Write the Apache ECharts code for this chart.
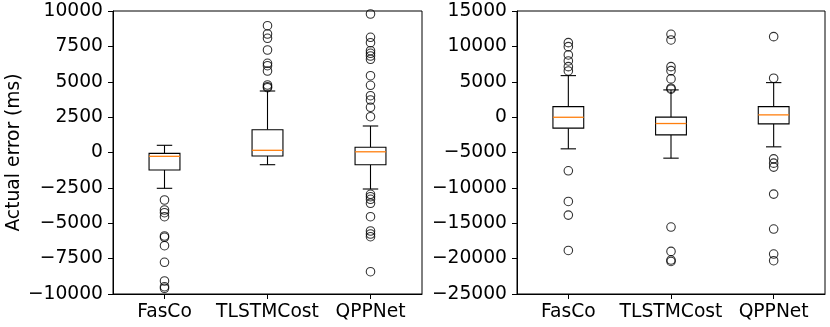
<!DOCTYPE html>
<html>
<head>
<meta charset="utf-8">
<script src="https://cdn.jsdelivr.net/npm/echarts@6/dist/echarts.min.js"></script>
<style>html,body{margin:0;padding:0;background:#fff}#c{width:830px;height:327px}</style>
</head>
<body>
<div id="c"></div>
<script>
const categories = ['FasCo', 'TLSTMCost', 'QPPNet'];
const yTitle = 'Actual error (ms)';

// box stats: [lowerWhisker, Q1, median, Q3, upperWhisker]
const leftFasCo = [-2530, -1237, -270, -60, 509];
const leftTLSTM = [-862, -247, 155, 1611, 4346];
const leftQPPNet = [-2580, -862, 50, 367, 1873];
const rightFasCo = [-4482, -1560, -20, 1489, 5866];
const rightTLSTM = [-5800, -2506, -904, 0, 3847];
const rightQPPNet = [-4200, -953, 318, 1489, 4878];

// outliers
const leftFasCoOut = [-3357, -4064, -4254, -4537, -5901, -5993, -6587, -7760, -9081, -9484, -9597];
const leftTLSTMOut = [8961, 8375, 8071, 7244, 6304, 6134, 5760, 4770, 4650, 4580];
const leftQPPNetOut = [9788, 8141, 7760, 7194, 7011, 6820, 6587, 5428, 4749, 4014, 3710, 3194, 2530,
  -2954, -3124, -3307, -3590, -4537, -5548, -5760, -5951, -8424];
const rightFasCoOut = [10525, 9960, 8789, 7941, 7136, 6530, -7587, -11923, -13846, -18841];
const rightTLSTMOut = [11705, 10906, 7136, 6572, 5400, 4086, 3950, -15537, -18982, -20200, -20400];
const rightQPPNetOut = [11373, 5500, -5894, -6502, -7066, -10878, -15820, -19350, -20296];

const FONT = 'DejaVu Sans';
const FS = 18.7;
const fmt = v => String(v).replace('-', '\u2212');

function boxData(list) { return list.map((s, i) => [i].concat(s)); }
function outData(lists) {
  const out = [];
  lists.forEach((l, i) => l.forEach(v => out.push([i, v])));
  return out;
}

function renderBox(params, api) {
  const x = api.value(0);
  const pLo = api.coord([x, api.value(1)]);
  const pQ1 = api.coord([x, api.value(2)]);
  const pMed = api.coord([x, api.value(3)]);
  const pQ3 = api.coord([x, api.value(4)]);
  const pHi = api.coord([x, api.value(5)]);
  const bw = api.size([1, 0])[0] * 0.3;
  const cx = pMed[0];
  const ls = { stroke: '#000', lineWidth: 1.1, fill: null };
  return {
    type: 'group',
    children: [
      { type: 'line', shape: { x1: cx, y1: pQ1[1], x2: cx, y2: pLo[1] }, style: ls },
      { type: 'line', shape: { x1: cx, y1: pQ3[1], x2: cx, y2: pHi[1] }, style: ls },
      { type: 'line', shape: { x1: cx - bw / 4, y1: pLo[1], x2: cx + bw / 4, y2: pLo[1] }, style: ls },
      { type: 'line', shape: { x1: cx - bw / 4, y1: pHi[1], x2: cx + bw / 4, y2: pHi[1] }, style: ls },
      { type: 'rect', shape: { x: cx - bw / 2, y: pQ3[1], width: bw, height: pQ1[1] - pQ3[1] }, style: { stroke: '#000', lineWidth: 1.1, fill: '#fff' } },
      { type: 'line', shape: { x1: cx - bw / 2, y1: pMed[1], x2: cx + bw / 2, y2: pMed[1] }, style: { stroke: '#ff7f0e', lineWidth: 1.3 } }
    ]
  };
}

const axisText = { color: '#000', fontFamily: FONT, fontSize: FS };
function xAxis(idx) {
  return {
    type: 'category', gridIndex: idx, data: categories, boundaryGap: true,
    axisLine: { show: true, onZero: false, lineStyle: { color: '#000', width: 1 } },
    axisTick: { show: true, alignWithLabel: true, length: 5, lineStyle: { color: '#000' } },
    axisLabel: Object.assign({ margin: 9, interval: 0, hideOverlap: false }, axisText),
    splitLine: { show: false }
  };
}
function yAxis(idx, min, max, interval, name) {
  return {
    type: 'value', gridIndex: idx, min, max, interval,
    name: name || '', nameLocation: 'middle', nameGap: 89,
    nameTextStyle: { color: '#000', fontFamily: FONT, fontSize: FS },
    axisLine: { show: true, onZero: false, lineStyle: { color: '#000', width: 1 } },
    axisTick: { show: true, length: 5, lineStyle: { color: '#000' } },
    axisLabel: Object.assign({ margin: 10, formatter: fmt }, axisText),
    splitLine: { show: false }
  };
}
function outSeries(idx, data) {
  return {
    type: 'scatter', xAxisIndex: idx, yAxisIndex: idx, data,
    symbol: 'circle', symbolSize: 8.5,
    itemStyle: { color: 'rgba(0,0,0,0)', borderColor: '#000', borderWidth: 1.1 },
    z: 3
  };
}

const chart = echarts.init(document.getElementById('c'), null, { renderer: 'canvas' });
chart.setOption({
  animation: false,
  backgroundColor: '#fff',
  grid: [
    { left: 113, top: 11, width: 309, height: 283, show: true, borderColor: '#000', borderWidth: 1 },
    { left: 517, top: 11, width: 308, height: 283, show: true, borderColor: '#000', borderWidth: 1 }
  ],
  xAxis: [xAxis(0), xAxis(1)],
  yAxis: [yAxis(0, -10000, 10000, 2500, yTitle), yAxis(1, -25000, 15000, 5000)],
  series: [
    { type: 'custom', xAxisIndex: 0, yAxisIndex: 0, renderItem: renderBox,
      encode: { x: 0, y: [1, 2, 3, 4, 5] },
      data: boxData([leftFasCo, leftTLSTM, leftQPPNet]), z: 2 },
    outSeries(0, outData([leftFasCoOut, leftTLSTMOut, leftQPPNetOut])),
    { type: 'custom', xAxisIndex: 1, yAxisIndex: 1, renderItem: renderBox,
      encode: { x: 0, y: [1, 2, 3, 4, 5] },
      data: boxData([rightFasCo, rightTLSTM, rightQPPNet]), z: 2 },
    outSeries(1, outData([rightFasCoOut, rightTLSTMOut, rightQPPNetOut]))
  ]
});
</script>
</body>
</html>
